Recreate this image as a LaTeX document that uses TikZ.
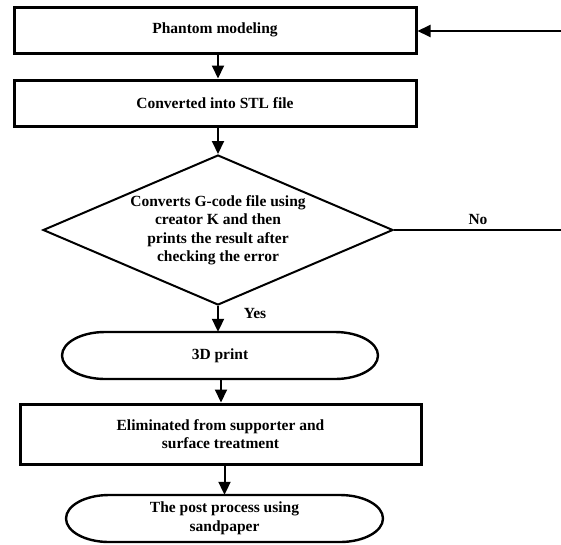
\documentclass[tikz,border=0pt]{standalone}
\usepackage{fontspec}
\setmainfont{Liberation Serif}
\usetikzlibrary{shapes.geometric,arrows.meta}
\begin{document}
\begin{tikzpicture}[x=1pt,y=-1pt,
  every node/.style={font=\bfseries\fontsize{15.5}{18.5}\selectfont, align=center, inner sep=0pt},
  procbox/.style={draw, line width=3pt, minimum width=402pt},
  decbox/.style={draw, diamond, line width=2pt, minimum width=350pt, minimum height=150pt, aspect=2.33},
  termbox/.style={rectangle, minimum width=316pt, minimum height=47pt},
  ovalline/.style={line width=2.4pt},
  conn/.style={line width=2pt},
  arr/.style={conn, -{Triangle[width=12pt,length=13pt]}},
  lbl/.style={font=\bfseries\fontsize{15.5}{18.5}\selectfont}
]
\useasboundingbox (0,0) rectangle (561,544);
\node[procbox, minimum height=46pt] (b1) at (215,30) {Phantom modeling};
\node[procbox, minimum height=46pt] (b2) at (215,103) {Converted into STL file};
\node[decbox] (d) at (218,230) {Converts G-code file using\\creator K and then\\prints the result after\\checking the error};
\node[termbox] (o1) at (220,355.5) {3D print};
\draw[ovalline] (105,332) -- (335,332)
  .. controls (358.7,332) and (378,342.5) .. (378,355.5)
  .. controls (378,368.5) and (358.7,379) .. (335,379)
  -- (105,379)
  .. controls (81.3,379) and (62,368.5) .. (62,355.5)
  .. controls (62,342.5) and (81.3,332) .. cycle;
\node[procbox, minimum width=401pt, minimum height=60pt] (b3) at (220.5,434) {Eliminated from supporter and\\surface treatment};
\node[termbox, minimum width=317pt] (o2) at (224.5,518.5) {The post process using\\sandpaper};
\draw[ovalline] (109,495) -- (340,495)
  .. controls (363.7,495) and (383,505.5) .. (383,518.5)
  .. controls (383,531.5) and (363.7,542) .. (340,542)
  -- (109,542)
  .. controls (85.3,542) and (66,531.5) .. (66,518.5)
  .. controls (66,505.5) and (85.3,495) .. cycle;
\coordinate (noend) at (561,230);
\coordinate (inend) at (561,31);
\node[lbl] (no) at (478,219) {No};
\node[lbl] (yes) at (255,313) {Yes};
\draw[arr] (b1.south -| d.north) -- (b2.north -| d.north);
\draw[arr] (b2.south -| d.north) -- (d.north);
\draw[conn] (d.east) -- (noend);
\draw[arr] (inend) -- (inend -| b1.east);
\draw[arr] (d.south) -- (o1.north -| d.south);
\draw[arr] (o1.south -| 221,0) -- (b3.north -| 221,0);
\draw[arr] (b3.south -| o2.north) -- (o2.north);
\end{tikzpicture}
\end{document}
